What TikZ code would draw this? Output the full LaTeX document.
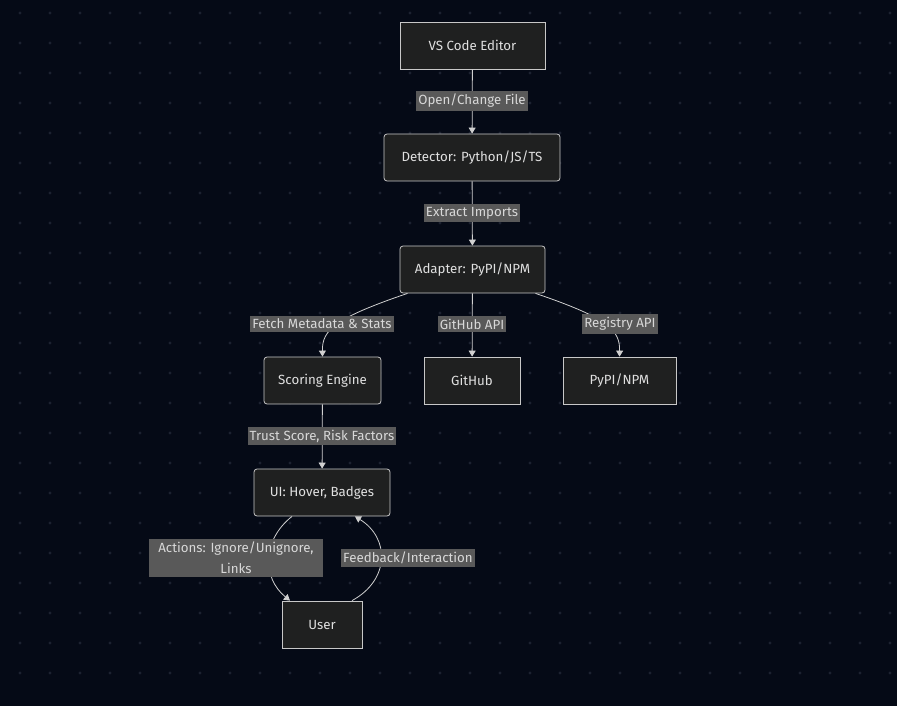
\documentclass[tikz,border=0pt]{standalone}
\usepackage{fontspec}
\setmainfont{Fira Sans}
\usetikzlibrary{arrows.meta}
\definecolor{canvas}{HTML}{050A16}
\definecolor{griddot}{HTML}{1C2230}
\definecolor{boxfill}{HTML}{1F2020}
\definecolor{boxline}{HTML}{C8C8C8}
\definecolor{boxtext}{HTML}{E0E0E0}
\definecolor{edgeline}{HTML}{D0D0D0}
\definecolor{tagfill}{HTML}{595959}
\definecolor{tagtext}{HTML}{D8D8D8}

\begin{document}
\begin{tikzpicture}[x=1pt,y=-1pt,font=\fontsize{13.3}{16}\selectfont,
box/.style={draw=boxline,fill=boxfill,text=boxtext,line width=.8pt,minimum height=47pt,minimum width=#1,inner xsep=4pt,inner ysep=4pt},
rbox/.style={box=#1,rounded corners=3pt},
tag/.style={fill=tagfill,text=tagtext,inner xsep=2pt,inner ysep=3pt,align=center},
arrow/.style={-{Triangle[length=6pt,width=7pt]},line width=.8pt,draw=edgeline}]
\useasboundingbox (0,0) rectangle (897,706);
\fill[canvas] (0,0) rectangle (897,706);
\foreach \gx in {20,50,...,890}
 \foreach \gy in {13,43,...,700}
  \fill[griddot] (\gx,\gy) circle (1.6pt);
% main column
\node[box=145pt] (editor) at (472.5,45.5) {VS Code Editor};
\node[rbox=176pt] (detector) at (472,157.5) {Detector: Python/JS/TS};
\node[rbox=145pt] (adapter) at (472.5,269.5) {Adapter: PyPI/NPM};
\node[rbox=117pt] (scoring) at (322.5,380.5) {Scoring Engine};
\node[box=96pt] (github) at (472,380.5) {GitHub};
\node[box=113pt] (registry) at (619.5,380.5) {PyPI/NPM};
\node[rbox=136pt] (ui) at (322,492.5) {UI: Hover, Badges};
\node[box=80pt] (user) at (322,624.5) {User};
\draw[arrow] (editor)--(detector);
\draw[arrow] (detector)--(adapter);
\draw[arrow] (adapter)--(github);
\draw[arrow] ([xshift=-65pt]adapter.south) .. controls (335,318) and (322,330) .. (scoring.north);
\draw[arrow] ([xshift=63pt]adapter.south) .. controls (608,318) and (620,330) .. (registry.north);
\draw[arrow] (scoring)--(ui);
% loop between ui and user
\draw[arrow] ([xshift=-30pt]ui.south) .. controls (262,540) and (262,578) .. ([xshift=-32pt]user.north);
\draw[arrow] ([xshift=30pt]user.north) .. controls (390,580) and (390,538) .. ([xshift=33pt]ui.south);
% edge labels
\node[tag] (t1) at (472,101) {Open/Change File};
\node[tag] (t2) at (472,213) {Extract Imports};
\node[tag] (t3) at (322,324) {Fetch Metadata \& Stats};
\node[tag] (t4) at (472,324) {GitHub API};
\node[tag] (t5) at (620,324) {Registry API};
\node[tag] (t6) at (322,436) {Trust Score, Risk Factors};
\node[tag,minimum width=174pt,font=\fontsize{13.3}{21}\selectfont] (t7) at (236,558) {Actions: Ignore/Unignore,\\Links};
\node[tag] (t8) at (408,558) {Feedback/Interaction};
\end{tikzpicture}
\end{document}
